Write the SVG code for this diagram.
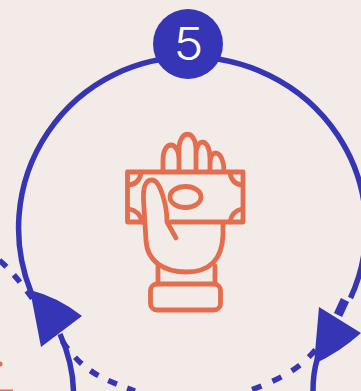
<svg xmlns="http://www.w3.org/2000/svg" width="361" height="391" viewBox="0 0 361 391">
<style>
.ring{fill:none;stroke:#3535b5;stroke-width:5.500}
.dash{fill:none;stroke:#3535b5;stroke-width:5.500;stroke-dasharray:9.500 11;stroke-dashoffset:-2}
.dash2{fill:none;stroke:#3535b5;stroke-width:5.500;stroke-dasharray:10 12;stroke-dashoffset:-0.850}
.head{fill:#3535b5}
.ic{fill:none;stroke:#e36d4d;stroke-width:4.800;stroke-linecap:round;stroke-linejoin:round}
.dot{fill:#e36d4d}
</style>
<rect width="361" height="391" fill="#f2ebe8"/>
<g id="connectors">
<path class="dash" d="M-2 259C22 279 45 318 65 345S100 378 135 391"/>
<path class="dash2" d="M316 349C300 369 280 380 240 394"/>
<path class="ring" d="M31 292A171 171 0 0 1 190 57A176 171 0 0 1 350.500 298"/>
<path class="ring" d="M60 334C68 352 73 370 73.500 391"/>
<path class="ring" d="M317 360C314 370 313 380 313 391"/>
<path d="M345 300L338 315" fill="none" stroke="#3535b5" stroke-width="9"/>
<path class="head" d="M30 290Q58 297 82 316L41 347Z"/>
<path class="head" d="M319 307L361 333Q340 352 314 364Z"/>
</g>
<g id="node-5">
<circle cx="188" cy="44" r="35" fill="#3535b5"/>
<text x="188.500" y="60" font-family="Inter, 'Liberation Sans', sans-serif" font-size="45" font-weight="300" fill="#fff" text-anchor="middle" textLength="30" lengthAdjust="spacingAndGlyphs">5</text>
</g>
<g id="icon-hand">
<path class="ic" d="M163 171V160C163 140 179 140 179 160V171M179 171V150C179 129 196 129 196 150V171M196 171V155C196 137 210 138 210 158V171M210 171V164C210 147 224 150 224 171"/>
<path class="ic" d="M171 222H243V172H127.500V222H145"/>
<path class="ic" d="M129 185Q139 184 141 173M242 185Q232 184 230 173M129 209Q140 211 142 222M242 209Q232 211 230 222"/>
<ellipse class="ic" cx="185.500" cy="197" rx="15.500" ry="10.500"/>
<path class="ic" d="M176 238L167 222C167 205 160 180 152 180C145 180 143 188 143.500 200L146 240C147 262 165 272 186 272C207 272 222 262 223 235V224"/>
<path class="ic" d="M158 266V284M215 266V284"/>
<rect class="ic" x="150.500" y="284" width="70" height="26" rx="6.500"/>
</g>
<g id="fragments">
<circle class="dot" cx="0" cy="364" r="2.500"/>
<rect class="dot" x="0" y="389.500" width="13" height="1.500"/>
</g>
</svg>
